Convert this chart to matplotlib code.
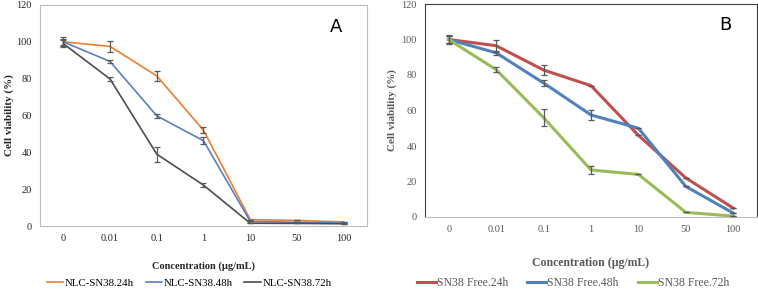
""" Cell viability curves: NLC-SN38 (A) vs free SN38 (B). """

import matplotlib.pyplot as plt
import numpy as np

concentrations = ["0", "0.01", "0.1", "1", "10", "50", "100"]

# panel A: NLC-SN38
nlc_labels = ["NLC-SN38.24h", "NLC-SN38.48h", "NLC-SN38.72h"]
nlc_24h = [100, 97.5, 81.5, 52, 3.5, 3, 2.2]
nlc_48h = [100, 89.3, 59.8, 46.3, 2.5, 2, 1.6]
nlc_72h = [99, 79.8, 39, 22.2, 1.5, 1.4, 1.2]
nlc_24h_err = [2.5, 3, 2.5, 1.5, 0, 0, 0]
nlc_48h_err = [1.5, 1, 1.2, 2, 0, 0, 0]
nlc_72h_err = [2, 1, 4, 1, 0, 0, 0]

# panel B: free SN38
free_labels = ["SN38 Free.24h", "SN38 Free.48h", "SN38 Free.72h"]
free_24h = [100, 96.5, 82.8, 74, 46, 22, 5]
free_48h = [100, 92.5, 75.5, 57.5, 50, 17.2, 2.2]
free_72h = [100, 83, 56, 26.5, 24, 2.6, 0.5]
free_24h_err = [2.5, 3.5, 3, 0, 0, 0, 0]
free_48h_err = [2, 1, 1.5, 3, 0, 0, 0]
free_72h_err = [2, 1.5, 5, 2, 0, 0, 0]


def draw_panel(ax, series, errors, labels, colors, lw, text_color, spine_color,
               letter, xlabel_size, xlabel_pad, ylabel_pad):
    x = np.arange(len(concentrations))
    handles = []
    for vals, err, lab, col in zip(series, errors, labels, colors):
        ax.errorbar(x, vals, yerr=err, fmt="none", ecolor="#595959",
                    elinewidth=0.9, capsize=2, capthick=0.9, zorder=3)
        h, = ax.plot(x, vals, color=col, lw=lw, label=lab, zorder=2)
        handles.append(h)
    ax.set_xlim(-0.5, len(concentrations) - 0.5)
    ax.set_ylim(0, 120)
    ax.set_yticks(range(0, 121, 20))
    ax.set_xticks(x)
    ax.set_xticklabels(concentrations)
    ax.tick_params(length=0, labelsize=7.5, colors=text_color, pad=6)
    for lbl in ax.get_xticklabels() + ax.get_yticklabels():
        lbl.set_family("Liberation Serif")
    ax.set_xlabel("Concentration (µg/mL)", family="Liberation Serif",
                  fontweight="bold", fontsize=xlabel_size, color=text_color,
                  labelpad=xlabel_pad)
    ax.set_ylabel("Cell viability (%)", family="Liberation Serif",
                  fontweight="bold", fontsize=8, color=text_color, labelpad=ylabel_pad)
    for side in ["left", "top", "right"]:
        ax.spines[side].set_color(spine_color)
    ax.spines["bottom"].set_color("#BFBFBF")
    ax.text(0.905, 0.9, letter, transform=ax.transAxes, fontsize=13,
            family="DejaVu Sans", ha="center", va="center")
    return handles


fig = plt.figure(figsize=(7.58, 2.92), dpi=100)
W, H = 758, 292
ax_a = fig.add_axes([40 / W, 1 - 226 / H, (367 - 40) / W, (226 - 5) / H])
ax_b = fig.add_axes([425 / W, 1 - 217 / H, (757 - 425) / W, (217 - 4) / H])

h_a = draw_panel(ax_a, [nlc_24h, nlc_48h, nlc_72h],
                 [nlc_24h_err, nlc_48h_err, nlc_72h_err], nlc_labels,
                 ["#ED7D31", "#5B7FC0", "#4D4D4D"], 1.2, "#262626", "#BFBFBF", "A",
                 7.5, 13, 2)
h_b = draw_panel(ax_b, [free_24h, free_48h, free_72h],
                 [free_24h_err, free_48h_err, free_72h_err], free_labels,
                 ["#C0504D", "#4F81BD", "#9BBB59"], 2.2, "#595959", "#404040", "B",
                 8.5, 16, 3)

leg_a = fig.legend(handles=h_a, loc="center", bbox_to_anchor=(189 / W, 1 - 283 / H),
                   ncol=3, frameon=False, handlelength=1.5, handletextpad=0.15,
                   columnspacing=1.1, prop={"family": "Liberation Serif", "size": 7.8})
leg_b = fig.legend(handles=h_b, loc="center", bbox_to_anchor=(573 / W, 1 - 283 / H),
                   ncol=3, frameon=False, handlelength=1.6, handletextpad=0.1,
                   columnspacing=1.6, prop={"family": "Liberation Serif", "size": 8.5})
for t in leg_b.get_texts():
    t.set_color("#595959")

fig.savefig("out.png", dpi=100)
